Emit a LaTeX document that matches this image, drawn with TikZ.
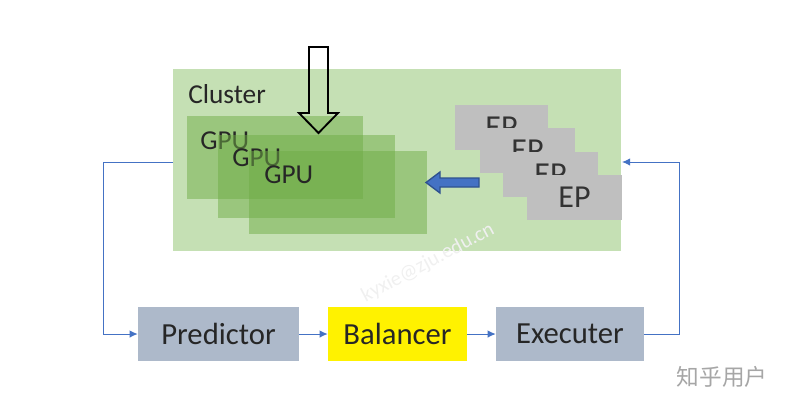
\documentclass[tikz,border=0pt]{standalone}
\usepackage{fontspec}
\setmainfont{Carlito}
\newfontfamily\cjk{Noto Sans CJK SC}
\usetikzlibrary{arrows.meta}
\definecolor{clbg}{HTML}{C5E0B4}
\definecolor{gpug}{HTML}{70AD47}
\definecolor{epgray}{HTML}{BFBFBF}
\definecolor{bluegray}{HTML}{ADB9CA}
\definecolor{lineblue}{HTML}{4472C4}
\definecolor{darkblue}{HTML}{2F528F}
\begin{document}
\begin{tikzpicture}[x=0.75pt,y=-0.75pt,
  bigtxt/.style={font=\fontsize{23}{27}\selectfont, text=black!85},
  midtxt/.style={font=\fontsize{20.5}{24}\selectfont, text=black!85},
  rbox/.style={inner sep=0pt, minimum height=40.5pt, bigtxt},
  gpubox/.style={inner sep=0pt, minimum width=132.75pt, minimum height=62.25pt, fill=gpug, fill opacity=0.5},
  epbox/.style={inner sep=0pt, minimum width=71.25pt, minimum height=33.75pt, fill=epgray, font=\fontsize{24}{28}\selectfont, text=black!80},
  flow/.style={draw=lineblue, line width=0.75pt, -{Latex[length=6pt,width=5.5pt]}}
]
\useasboundingbox (0,0) rectangle (789,401);
% cluster
\node[fill=clbg, inner sep=0pt, minimum width=336pt, minimum height=136.5pt] (cluster) at (397,160) {};
\node[midtxt, anchor=west, inner sep=0pt] (cltxt) at (188,94) {Cluster};
% GPUs
\node[gpubox, minimum width=132pt] (gpu1) at (275,157.5) {};
\node[midtxt, anchor=west, inner sep=0pt] (g1t) at (200,141) {GPU};
\node[gpubox] (gpu2) at (306.5,176.5) {};
\node[midtxt, anchor=west, inner sep=0pt] (g2t) at (232,158) {GPU};
\node[gpubox, minimum width=133.5pt] (gpu3) at (338,192.5) {};
\node[midtxt, anchor=west, inner sep=0pt] (g3t) at (264,175) {GPU};
% EPs
\node[epbox, minimum width=69.75pt] (ep1) at (501.5,127.5) {EP};
\node[epbox] (ep2) at (527.5,150.5) {EP};
\node[epbox] (ep3) at (550.5,174.5) {EP};
\node[epbox] (ep4) at (574.5,197.5) {EP};
% block arrows
\draw[line width=1.4pt, line join=miter] (309,47) -- (328,47) -- (328,113) -- (338,113) -- (318.5,133) -- (299,113) -- (309,113) -- cycle;
\draw[fill=lineblue, draw=darkblue, line width=1pt] (479,178) -- (440,178) -- (440,172) -- (426,182.5) -- (440,193) -- (440,187) -- (479,187) -- cycle;
% bottom row
\node[rbox, fill=bluegray, minimum width=120.75pt] (pred) at (218.5,334) {Predictor};
\node[rbox, fill=yellow, minimum width=104.25pt] (bal) at (397.5,334) {Balancer};
\node[rbox, fill=bluegray, minimum width=111pt] (exec) at (570,334) {Executer};
% connectors
\coordinate (cl) at (173,162);
\coordinate (cr) at (622,162);
\draw[flow] (cl) -- (103,162) |- (pred.west);
\draw[flow] (pred.east) -- (bal.west);
\draw[flow] (bal.east) -- (exec.west);
\draw[flow] (exec.east) -- (679,334) |- (cr);
% watermarks
\node[rotate=28, text=black!6, font=\fontsize{15.5}{18}\selectfont, inner sep=0pt] (wm) at (428,263) {kyxie@zju.edu.cn};
\node[text=black!35, font=\cjk\fontsize{17}{20}\selectfont] (zh) at (722,377) {知乎用户};
\end{tikzpicture}
\end{document}
